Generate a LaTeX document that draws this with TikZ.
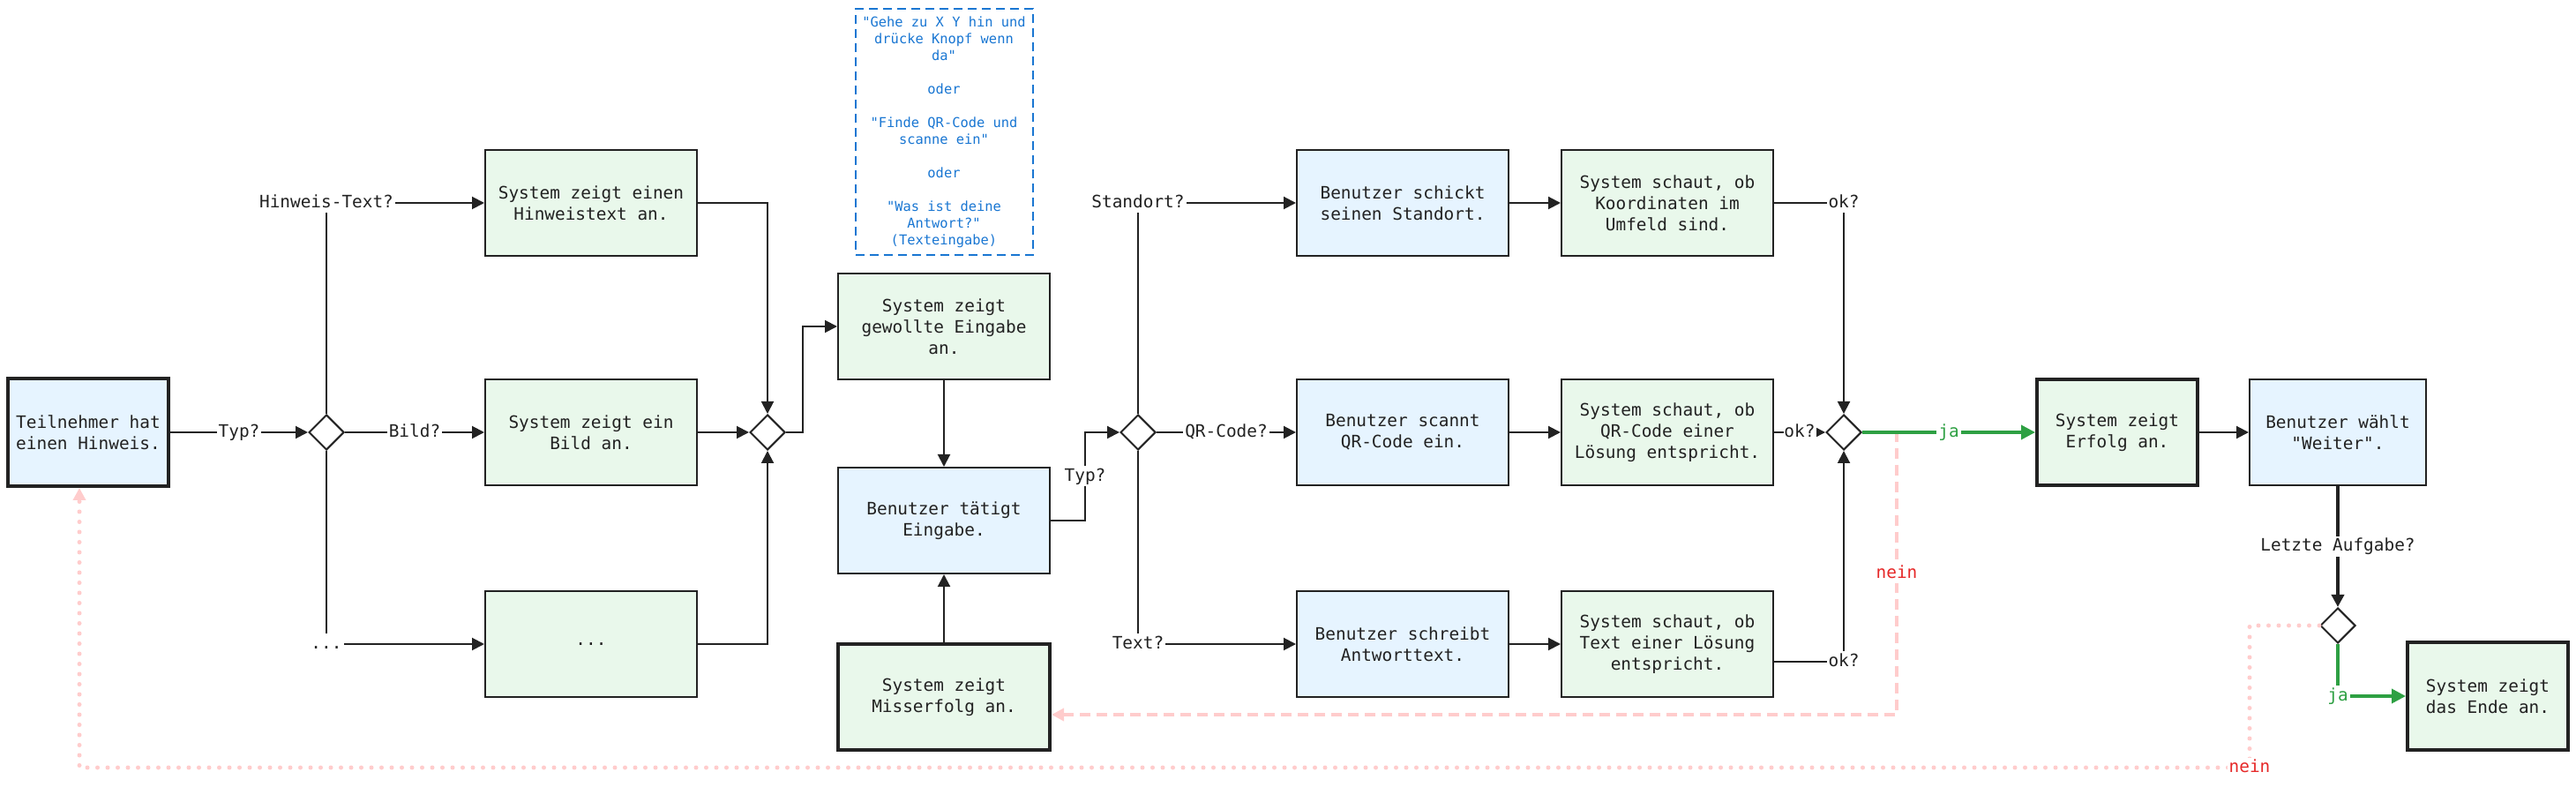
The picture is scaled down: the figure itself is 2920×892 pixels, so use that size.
\documentclass[tikz,border=0pt]{standalone}
\usepackage{fontspec}
\setmonofont{DejaVu Sans Mono}
\usepackage{tikz}
\usetikzlibrary{shapes.geometric,arrows.meta}
\definecolor{userfill}{RGB}{230,244,255}
\definecolor{sysfill}{RGB}{233,248,235}
\definecolor{edgecol}{RGB}{34,34,34}
\definecolor{notecol}{RGB}{25,118,210}
\definecolor{yescol}{RGB}{46,160,67}
\definecolor{nocol}{RGB}{255,204,204}
\definecolor{notext}{RGB}{230,40,40}

\begin{document}
\begin{tikzpicture}[x=0.5pt,y=-0.5pt,
  font=\ttfamily\fontsize{9.7}{12}\selectfont,text=edgecol,
  box/.style={rectangle,draw=edgecol,line width=1pt,align=center,minimum width=120pt,minimum height=60pt,inner sep=0pt},
  usernode/.style={box,fill=userfill},
  sysnode/.style={box,fill=sysfill},
  heavy/.style={line width=2pt},
  choice/.style={diamond,aspect=1,draw=edgecol,fill=white,line width=1pt,minimum size=20pt,inner sep=0pt},
  link/.style={draw=edgecol,line width=1pt,-{Triangle[length=7pt,width=7pt]}},
  tag/.style={fill=white,inner sep=1pt,text height=7.5pt,text depth=2pt},
  yes/.style={draw=yescol,line width=1.75pt,-{Triangle[length=8pt,width=8pt]}},
  yestag/.style={tag,text=yescol},
  notag/.style={tag,text=notext},
  nodash/.style={draw=nocol,line width=2pt,dash pattern=on 6pt off 3.5pt,-{Triangle[length=7pt,width=7pt]}},
  nodot/.style={draw=nocol,line width=2.5pt,line cap=round,dash pattern=on 0pt off 5.75pt,-{Triangle[length=7pt,width=7pt]}}
]
\useasboundingbox (0,0) rectangle (2920,892);
\node at (100,490) [usernode,heavy,minimum width=91pt,minimum height=61pt] (Start) {Teilnehmer hat\\einen Hinweis.};
\node at (370,490) [choice] (Choice1) {};
\node at (670,230) [sysnode] (Hint) {System zeigt einen\\Hinweistext an.};
\node at (670,490) [sysnode] (Picture) {System zeigt ein\\Bild an.};
\node at (670,730) [sysnode] (Etc) {...};
\node at (870,490) [choice] (Choice2) {};
\node at (1070,150) [draw=notecol,line width=1pt,dash pattern=on 5pt off 3pt,align=center,minimum width=100.5pt,minimum height=139.5pt,inner sep=0pt,text=notecol,font=\ttfamily\fontsize{7.7}{9.5}\selectfont] (Note) {"Gehe zu X Y hin und\\drücke Knopf wenn\\da"\\[9.5pt]oder\\[9.5pt]"Finde QR-Code und\\scanne ein"\\[9.5pt]oder\\[9.5pt]"Was ist deine\\Antwort?"\\(Texteingabe)};
\node at (1070,370) [sysnode] (Prompt) {System zeigt\\gewollte Eingabe\\an.};
\node at (1070,590) [usernode] (Entry) {Benutzer tätigt\\Eingabe.};
\node at (1070,790) [sysnode,heavy] (Fail) {System zeigt\\Misserfolg an.};
\node at (1290,490) [choice] (Choice3) {};
\node at (1590,230) [usernode] (Location) {Benutzer schickt\\seinen Standort.};
\node at (1890,230) [sysnode] (CheckLoc) {System schaut, ob\\Koordinaten im\\Umfeld sind.};
\node at (1590,490) [usernode] (Scan) {Benutzer scannt\\QR-Code ein.};
\node at (1890,490) [sysnode] (CheckQR) {System schaut, ob\\QR-Code einer\\Lösung entspricht.};
\node at (1590,730) [usernode] (Answer) {Benutzer schreibt\\Antworttext.};
\node at (1890,730) [sysnode] (CheckText) {System schaut, ob\\Text einer Lösung\\entspricht.};
\node at (2090,490) [choice] (Choice4) {};
\node at (2400,490) [sysnode,heavy,minimum width=91pt] (Success) {System zeigt\\Erfolg an.};
\node at (2650,490) [usernode,minimum width=100pt] (Next) {Benutzer wählt\\"Weiter".};
\node at (2650,709) [choice] (Choice5) {};
\node at (2820,789) [sysnode,heavy,minimum width=91pt,minimum height=61pt] (Finish) {System zeigt\\das Ende an.};
\coordinate (Back) at (90,870);
\draw[link] (Start) -- node[tag]{Typ?} (Choice1);
\draw[link] (Choice1) |- node[tag]{Hinweis-Text?} (Hint);
\draw[link] (Choice1) -- node[tag]{Bild?} (Picture);
\draw[link] (Choice1) |- node[tag]{...} (Etc);
\draw[link] (Hint) -| (Choice2);
\draw[link] (Picture) -- (Choice2);
\draw[link] (Etc) -| (Choice2);
\draw[link] (Choice2) -- ++(40,0) |- (Prompt);
\draw[link] (Prompt) -- (Entry);
\draw[link] (Fail) -- (Entry);
\draw[link] (Entry) -- ++(160,0) |- node[pos=0.25,tag]{Typ?} (Choice3);
\draw[link] (Choice3) |- node[tag]{Standort?} (Location);
\draw[link] (Choice3) -- node[tag]{QR-Code?} (Scan);
\draw[link] (Choice3) |- node[tag]{Text?} (Answer);
\draw[link] (Location) -- (CheckLoc);
\draw[link] (Scan) -- (CheckQR);
\draw[link] (Answer) -- (CheckText);
\draw[link] (CheckLoc) -| node[tag]{ok?} (Choice4);
\draw[link] (CheckQR) -- node[tag,inner sep=0.5pt]{ok?} (Choice4);
\draw[link] ([yshift=-10pt]CheckText.east) -| node[tag]{ok?} (Choice4);
\draw[nodash] (Choice4) -- ++(60,0) |- node[pos=0.25,notag]{nein} ([yshift=-10pt]Fail.east);
\draw[nodot] (Choice5) -- ++(-100,0) |- node[notag]{nein} (Back) -- ([xshift=-5pt]Start.south);
\draw[yes] (Choice4) -- node[yestag]{ja} (Success);
\draw[link] (Success) -- (Next);
\draw[link,line width=1.75pt] (Next) -- node[tag]{Letzte Aufgabe?} (Choice5);
\draw[yes] (Choice5) |- node[yestag]{ja} (Finish);
\end{tikzpicture}
\end{document}
